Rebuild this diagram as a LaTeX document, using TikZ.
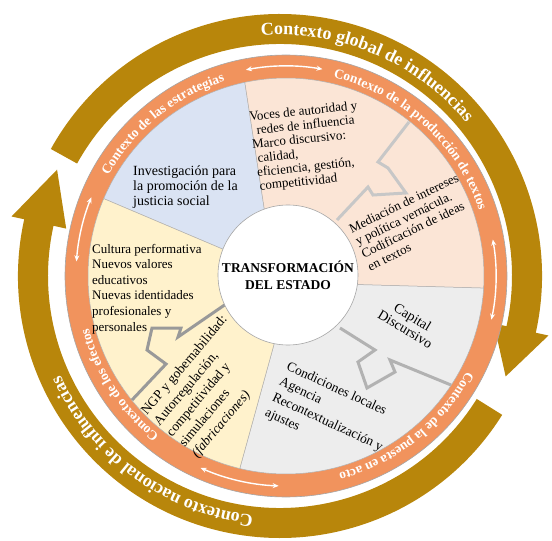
\documentclass[tikz,border=0pt]{standalone}
\usepackage{fontspec}
\setmainfont{Liberation Serif}
\usepackage{xcolor}
\usetikzlibrary{arrows.meta, decorations.text}

\definecolor{ringorange}{HTML}{F1935D}
\definecolor{goldbrown}{HTML}{B8860B}
\definecolor{sectblue}{HTML}{DAE3F3}
\definecolor{sectpeach}{HTML}{FBE5D6}
\definecolor{sectgray}{HTML}{EDEDED}
\definecolor{sectyellow}{HTML}{FFF2CC}

\begin{document}
\begin{tikzpicture}[
    x=1pt, y=1pt,
    every node/.style={align=left, inner sep=0pt, font=\fontsize{13}{15}\selectfont},
    sector/.style={draw=black!30, line width=0.5pt},
    bolt/.style={line width=3pt},
    both ways/.style={draw=white, line width=1.4pt, {Stealth[length=6pt,width=5pt]}-{Stealth[length=6pt,width=5pt]}},
    core/.style={circle, draw=black!35, fill=white, line width=0.6pt, minimum size=140pt, align=center, font=\fontsize{13.5}{17}\selectfont\bfseries},
    ring label/.style={decorate, decoration={text along path, text align=center,
        text={|\fontsize{13.5}{13.5}\selectfont\bfseries\color{white}|#1}}},
    band label/.style={decorate, decoration={text along path, text align=center,
        text={|\fontsize{18}{18}\selectfont\bfseries\color{white}|#1}}}
  ]
  \useasboundingbox (-286,-265) rectangle (266,276);

  % outer brown arrows
  \begin{scope}[shift={(-6,0)}]
    \fill[goldbrown] (151:232) arc[start angle=151, end angle=-12.5, radius=232]
      -- (-12.5:219) -- (-24:247) -- (-12.5:275) -- (-12.5:262)
      arc[start angle=-12.5, end angle=151, radius=262] -- cycle;
    \fill[goldbrown] (-32:232) arc[start angle=-32, end angle=-192.5, radius=232]
      -- (-192.5:219) -- (-205.5:247) -- (-192.5:275) -- (-192.5:262)
      arc[start angle=-192.5, end angle=-32, radius=262] -- cycle;
    \path[band label=Contexto global de influencias] (110:241) arc[start angle=110, end angle=24, radius=241];
    \path[band label=Contexto nacional de influencias] (-80:241) arc[start angle=-80, end angle=-172, radius=241];
  \end{scope}

  % orange ring
  \fill[ringorange] (0,0) circle[radius=221];
  \draw[black!35, line width=0.6pt] (0,0) circle[radius=221];

  % sectors
  \filldraw[sector, fill=sectblue] (0,0) -- (108:70) -- (102:198)
    arc[start angle=102, end angle=157, radius=198] -- cycle;
  \filldraw[sector, fill=sectpeach] (0,0) -- (-7:70) -- (-3.5:198)
    arc[start angle=-3.5, end angle=102, radius=198] -- (108:70) -- cycle;
  \filldraw[sector, fill=sectgray] (0,0) -- (-100:70) -- (-103.5:198)
    arc[start angle=-103.5, end angle=-3.5, radius=198] -- (-7:70) -- cycle;
  \filldraw[sector, fill=sectyellow] (0,0) -- (157:198)
    arc[start angle=157, end angle=256.5, radius=198] -- (-100:70) -- cycle;

  % zigzag arrows
  \draw[bolt, black!22] (123,154) -- (92,114) -- (102,108) -- (120,83) -- (87,81) -- (82,89) -- (51,56);
  \draw[bolt, black!30] (54,-52) -- (89,-74) -- (72,-86) -- (81,-112) -- (109,-96) -- (104,-84) -- (165,-109);
  \draw[bolt, black!40] (-154,-124) -- (-120,-88) -- (-139,-74) -- (-134,-52) -- (-105,-52) -- (-108,-61) -- (-60,-28);

  \node[core] (state) at (2,1) {TRANSFORMACIÓN\\DEL ESTADO};

  % ring arrows and labels
  \draw[both ways] (101:210) arc[start angle=101, end angle=80, radius=210];
  \draw[both ways] (10:210) arc[start angle=10, end angle=-12, radius=210];
  \draw[both ways] (-92:210) arc[start angle=-92, end angle=-114, radius=210];
  \draw[both ways] (158:210) arc[start angle=158, end angle=176, radius=210];
  \path[ring label=Contexto de las estrategias] (170:204) arc[start angle=170, end angle=88, radius=204];
  \path[ring label=Contexto de la producción de textos] (92:204) arc[start angle=92, end angle=3.4, radius=204];
  \path[ring label=Contexto de la puesta en acto] (-10:204) arc[start angle=-10, end angle=-92.8, radius=204];
  \path[ring label=Contexto de los efectos] (-105:204) arc[start angle=-105, end angle=-188.6, radius=204];

  % sector texts
  \node[anchor=west, font=\fontsize{14}{15}\selectfont] (research) at (-153,89)
    {Investigación para\\la promoción de la\\justicia social};
  \node[rotate=6, font=\fontsize{13}{14}\selectfont] (voices) at (21,129)
    {Voces de autoridad y\\\hspace*{6pt}redes de influencia\\Marco discursivo:\\\hspace*{4pt}calidad,\\\hspace*{2pt}eficiencia, gestión,\\\hspace*{3pt}competitividad};
  \node[rotate=26, font=\fontsize{13}{14}\selectfont] (mediation) at (127,54)
    {Mediación de intereses\\y política vernácula.\\Codificación de ideas\\en textos};
  \node[rotate=-31, align=center, font=\fontsize{14}{14.5}\selectfont] (capital) at (123,-47)
    {Capital\\Discursivo};
  \node[rotate=-25, font=\fontsize{13.5}{17}\selectfont] (local) at (45,-139)
    {Condiciones locales\\Agencia\\Recontextualización y\\ajustes};
  \node[rotate=50, font=\fontsize{13.5}{16.5}\selectfont] (ngp) at (-76,-111)
    {NGP y gobernabilidad:\\Autorregulación,\\competitividad y\\simulaciones\\\textit{(fabricaciones)}};
  \node[anchor=west, font=\fontsize{13}{15.6}\selectfont] (culture) at (-194,-13)
    {Cultura performativa\\Nuevos valores\\educativos\\Nuevas identidades\\profesionales y\\personales};
\end{tikzpicture}
\end{document}
